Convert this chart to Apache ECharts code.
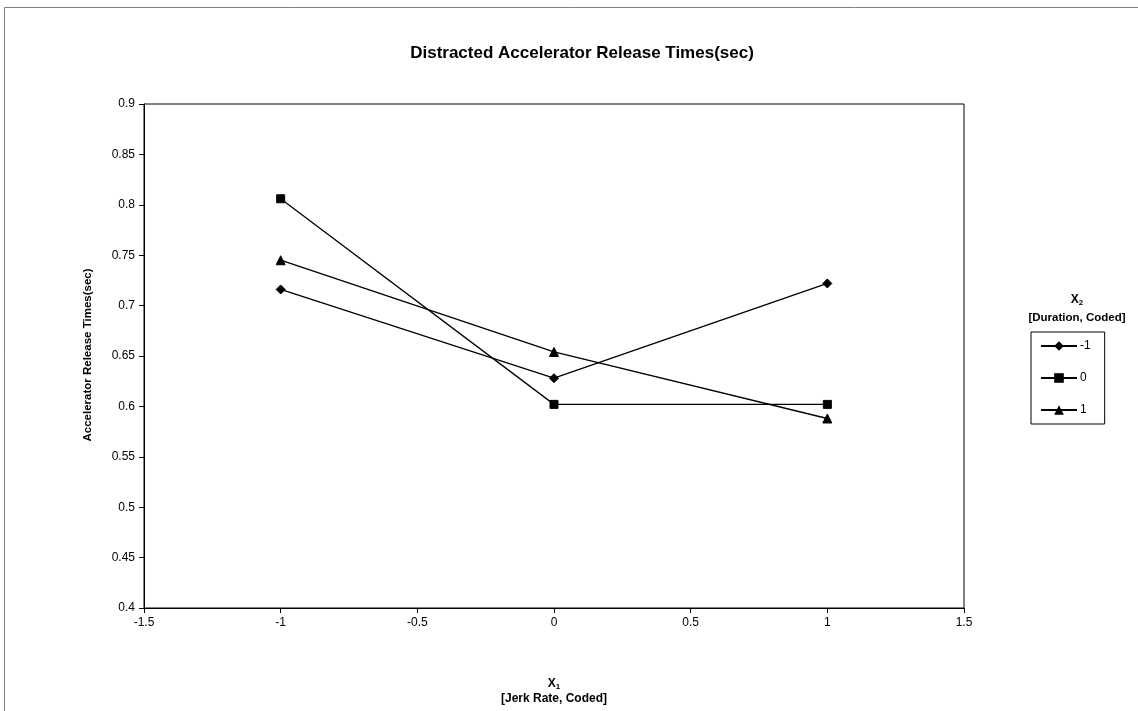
<!DOCTYPE html>
<html>
<head>
<meta charset="utf-8">
<script src="https://cdn.jsdelivr.net/npm/echarts@6/dist/echarts.min.js"></script>
<style>
html,body{margin:0;padding:0;background:#fff;}
#chart{width:1138px;height:711px;}
</style>
</head>
<body>
<div id="chart"></div>
<script>
const xValues = [-1, 0, 1];
const seriesNames = ['-1', '0', '1'];
const seriesMinus1 = [0.716, 0.628, 0.722];
const seriesZero = [0.806, 0.602, 0.602];
const seriesPlus1 = [0.745, 0.654, 0.588];
const seriesSymbols = ['diamond', 'rect', 'triangle'];
const seriesSymbolSizes = [9, 8, 9];
const titleText = 'Distracted Accelerator Release Times(sec)';
const yAxisTitle = 'Accelerator Release Times(sec)';
const xAxisTitleTop = 'X';
const xAxisSub = '1';
const xAxisTitleBottom = '[Jerk Rate, Coded]';
const legendTitleTop = 'X';
const legendSub = '2';
const legendTitleBottom = '[Duration, Coded]';

const allValues = [seriesMinus1, seriesZero, seriesPlus1];
const FONT = '"Liberation Sans", Arial, sans-serif';

const chart = echarts.init(document.getElementById('chart'));

const series = allValues.map((vals, i) => ({
  name: seriesNames[i],
  type: 'line',
  data: xValues.map((x, j) => [x, vals[j]]),
  symbol: seriesSymbols[i],
  symbolSize: seriesSymbolSizes[i],
  showSymbol: true,
  lineStyle: { color: '#000', width: 1.3 },
  itemStyle: { color: '#000', borderColor: '#000' },
  animation: false
}));

chart.setOption({
  animation: false,
  backgroundColor: '#fff',
  textStyle: { fontFamily: FONT, color: '#000' },
  title: {
    text: titleText,
    left: 577,
    top: 40,
    textAlign: 'center',
    textStyle: { fontFamily: FONT, fontSize: 17, fontWeight: 'bold', color: '#000' }
  },
  grid: {
    left: 144, top: 104, right: 174, bottom: 103,
    show: true, borderColor: '#000', borderWidth: 1, backgroundColor: '#fff'
  },
  xAxis: {
    type: 'value',
    min: -1.5, max: 1.5, interval: 0.5,
    axisLine: { show: true, onZero: false, lineStyle: { color: '#000', width: 1 } },
    axisTick: { show: true, inside: false, length: 5, lineStyle: { color: '#000' } },
    axisLabel: { color: '#000', fontFamily: FONT, fontSize: 12, margin: 9 },
    splitLine: { show: false }
  },
  yAxis: {
    type: 'value',
    min: 0.4, max: 0.9, interval: 0.05,
    axisLine: { show: true, onZero: false, lineStyle: { color: '#000', width: 1 } },
    axisTick: { show: true, inside: false, length: 5, lineStyle: { color: '#000' } },
    axisLabel: {
      color: '#000', fontFamily: FONT, fontSize: 12, margin: 9,
      formatter: v => String(parseFloat(v.toFixed(2)))
    },
    splitLine: { show: false }
  },
  legend: {
    orient: 'vertical',
    left: 1031, top: 332,
    data: seriesNames,
    itemWidth: 36, itemHeight: 12, itemGap: 20,
    padding: [8, 14, 8, 9],
    borderColor: '#000', borderWidth: 1,
    textStyle: { fontFamily: FONT, fontSize: 12, color: '#000', padding: [0, 0, 0, -2] }
  },
  graphic: [
    { type: 'rect', silent: true, z: -10,
      shape: { x: 4.5, y: 7.5, width: 1200, height: 800 },
      style: { fill: 'none', stroke: '#808080', lineWidth: 1 } },
    { type: 'text', silent: true, x: 88, y: 355, rotation: Math.PI / 2,
      style: { text: yAxisTitle, font: 'bold 11.5px ' + FONT, fill: '#000',
               textAlign: 'center', textVerticalAlign: 'middle' } },
    { type: 'text', silent: true, x: 554, y: 684,
      style: { text: '{a|' + xAxisTitleTop + '}{s|' + xAxisSub + '}', textAlign: 'center', textVerticalAlign: 'middle',
               rich: { a: { font: 'bold 12px ' + FONT, fill: '#000' },
                       s: { font: 'bold 8px ' + FONT, fill: '#000', padding: [6, 0, 0, 0] } } } },
    { type: 'text', silent: true, x: 554, y: 699,
      style: { text: xAxisTitleBottom, font: 'bold 12px ' + FONT, fill: '#000',
               textAlign: 'center', textVerticalAlign: 'middle' } },
    { type: 'text', silent: true, x: 1077, y: 300,
      style: { text: '{a|' + legendTitleTop + '}{s|' + legendSub + '}', textAlign: 'center', textVerticalAlign: 'middle',
               rich: { a: { font: 'bold 12px ' + FONT, fill: '#000' },
                       s: { font: 'bold 8px ' + FONT, fill: '#000', padding: [6, 0, 0, 0] } } } },
    { type: 'text', silent: true, x: 1077, y: 318,
      style: { text: legendTitleBottom, font: 'bold 11.5px ' + FONT, fill: '#000',
               textAlign: 'center', textVerticalAlign: 'middle' } }
  ],
  series: series
});
</script>
</body>
</html>
